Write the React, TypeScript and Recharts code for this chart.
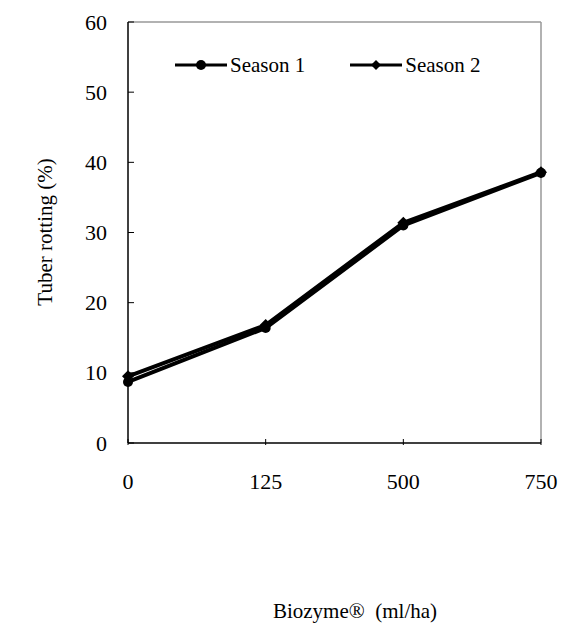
import React from 'react';
import { LineChart, Line, XAxis, YAxis, Legend, ReferenceLine } from 'recharts';

const doses = ['0', '125', '500', '750'];
const season1 = [8.7, 16.4, 31.0, 38.5];
const season2 = [9.5, 16.8, 31.4, 38.6];
const yTicks = [0, 10, 20, 30, 40, 50, 60];

const data = doses.map((d, i) => ({ dose: d, s1: season1[i], s2: season2[i] }));

const FONT = '"Liberation Serif", "Times New Roman", serif';

const YTick = (props: any) => {
  const { x, y, payload } = props;
  return (
    <g>
      <line x1={x + 8} x2={x + 14} y1={y} y2={y} stroke="#000" strokeWidth={1} />
      <text x={x - 13} y={y} textAnchor="end" dominantBaseline="central" fontSize={22} fontFamily={FONT} fill="#000">
        {payload.value}
      </text>
    </g>
  );
};

const XTick = (props: any) => {
  const { x, y, payload } = props;
  return (
    <g>
      <line x1={x} x2={x} y1={y - 6} y2={y - 12} stroke="#000" strokeWidth={1} />
      <text x={x} y={y + 30} textAnchor="middle" dominantBaseline="central" fontSize={22} fontFamily={FONT} fill="#000">
        {payload.value}
      </text>
    </g>
  );
};

const Diamond = (props: any) => {
  const { cx, cy } = props;
  if (cx == null || cy == null) return null;
  const r = 6;
  return <path d={`M${cx},${cy - r}L${cx + r},${cy}L${cx},${cy + r}L${cx - r},${cy}Z`} fill="#000" />;
};

const Dot = (props: any) => {
  const { cx, cy } = props;
  if (cx == null || cy == null) return null;
  return <circle cx={cx} cy={cy} r={5} fill="#000" />;
};

const LegendContent = () => {
  const items = [
    { label: 'Season 1', marker: 'circle' },
    { label: 'Season 2', marker: 'diamond' },
  ];
  return (
    <div style={{ display: 'flex', fontFamily: FONT, fontSize: 21, lineHeight: '24px' }}>
      {items.map((it) => (
        <div key={it.label} style={{ display: 'flex', alignItems: 'center', marginRight: 45 }}>
          <svg width={52} height={14}>
            <line x1={0} x2={52} y1={7} y2={7} stroke="#000" strokeWidth={3} />
            {it.marker === 'circle' ? (
              <circle cx={26} cy={7} r={5} fill="#000" />
            ) : (
              <path d="M26,2L31,7L26,12L21,7Z" fill="#000" />
            )}
          </svg>
          <span style={{ marginLeft: 3 }}>{it.label}</span>
        </div>
      ))}
    </div>
  );
};

export default function App() {
  return (
    <div style={{ position: 'absolute', left: 0, top: 0, width: 561, height: 626, background: '#fff' }}>
      <LineChart width={561} height={626} data={data} margin={{ top: 22, right: 20, left: 68, bottom: 40 }}>
        <ReferenceLine y={60} stroke="#999" strokeWidth={1.5} />
        <ReferenceLine x="750" stroke="#999" strokeWidth={1.5} />
        <XAxis
          dataKey="dose"
          height={143}
          axisLine={{ stroke: '#000', strokeWidth: 1.5 }}
          tickLine={false}
          tick={<XTick />}
          padding={{ left: 0, right: 0 }}
          interval={0}
        />
        <YAxis
          width={60}
          domain={[0, 60]}
          ticks={yTicks}
          axisLine={{ stroke: '#000', strokeWidth: 1.5 }}
          tickLine={false}
          tick={<YTick />}
          interval={0}
        />
        <Legend
          verticalAlign="middle"
          align="center"
          content={<LegendContent />}
          wrapperStyle={{ position: 'absolute', top: 53, left: 175, width: 360 }}
        />
        <Line dataKey="s1" name="Season 1" stroke="#000" strokeWidth={4} dot={<Dot />} activeDot={false} isAnimationActive={false} />
        <Line dataKey="s2" name="Season 2" stroke="#000" strokeWidth={4} dot={<Diamond />} activeDot={false} isAnimationActive={false} />
        <text x={45} y={232} transform="rotate(-90 45 232)" textAnchor="middle" dominantBaseline="central" fontSize={21} fontFamily={FONT} fill="#000">
          Tuber rotting (%)
        </text>
        <text x={355} y={611} textAnchor="middle" dominantBaseline="central" fontSize={21} fontFamily={FONT} fill="#000" xmlSpace="preserve">
          Biozyme®  (ml/ha)
        </text>
      </LineChart>
    </div>
  );
}
